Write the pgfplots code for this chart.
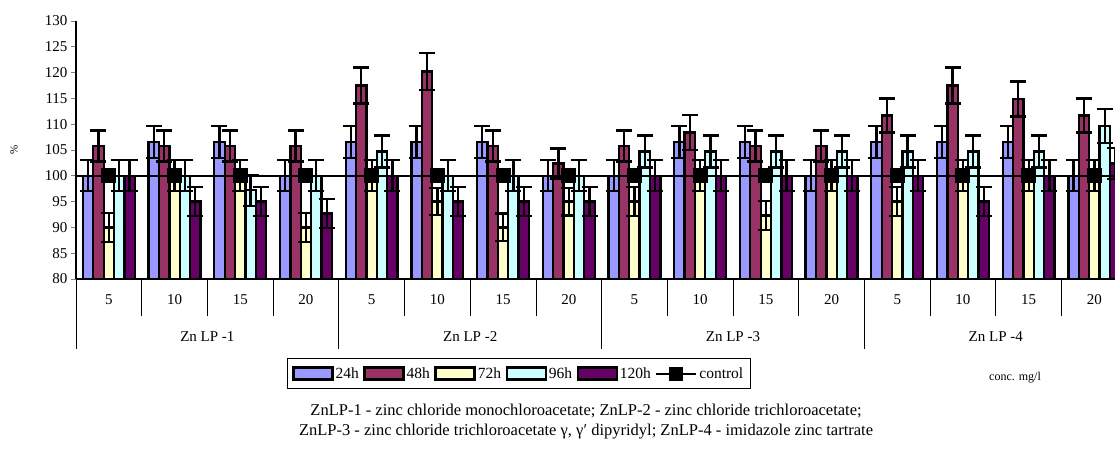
\documentclass[border=0pt]{standalone}
\usepackage{pgfplots}
\pgfplotsset{compat=1.18}
\usepackage{pgfplotstable}
\usepackage{fontspec}
\setmainfont{Liberation Serif}

\definecolor{c24}{HTML}{9999FF}
\definecolor{c48}{HTML}{993366}
\definecolor{c72}{HTML}{FFFFCC}
\definecolor{c96}{HTML}{CCFFFF}
\definecolor{c120}{HTML}{660066}

% x = category index (5,10,15,20 mg/l for each of ZnLP-1..4), value and error per time
\pgfplotstableread{
x  y1    e1   y2    e2   y3   e3   y4    e4   y5    e5
0  100   3    105.8 3    90   2.8  100   3    100   3
1  106.6 3.1  105.8 3    100  3    100   3    95    2.8
2  106.6 3.1  105.8 3    100  3    97.2  3    95    2.8
3  100   3    105.8 3    90   2.8  100   3    92.7  2.8
4  106.6 3.1  117.5 3.5  100  3    104.7 3.1  100   3
5  106.6 3.1  120.2 3.6  95   2.6  100   3    95    2.8
6  106.6 3.1  105.8 3    90   2.7  100   3    95    2.8
7  100   3    102.4 2.9  95   2.7  100   3    95    2.8
8  100   3    105.8 3    95   2.8  104.7 3.1  100   3
9  106.6 3.1  108.4 3.4  100  3    104.7 3.1  100   3
10 106.6 3.1  105.8 3    92.3 2.8  104.7 3.1  100   3
11 100   3    105.8 3    100  3    104.7 3.1  100   3
12 106.6 3.1  111.7 3.3  95   2.8  104.7 3.1  100   3
13 106.6 3.1  117.5 3.5  100  3    104.7 3.1  95    2.8
14 106.6 3.1  114.9 3.4  100  3    104.7 3.1  100   3
15 100   3    111.7 3.3  100  3    109.6 3.3  102.4 3
}\data

\pgfplotsset{
  barerr/.style={
    draw=black, line width=2.3pt,
    legend image code/.code={\draw[##1, line width=2.3pt] (0pt,-6pt) rectangle (39pt,6pt);},
    error bars/y dir=both, error bars/y explicit,
    error bars/error bar style={line width=2.3pt, black},
    error bars/error mark options={rotate=90, line width=2.3pt, mark size=8pt, black},
  },
}

\begin{document}
\begin{tikzpicture}
\begin{axis}[
    name=ax,
    width=1051.2pt, height=258pt, scale only axis,
    ybar=0pt, bar width=0.158,
    xmin=-0.5, xmax=15.5,
    ymin=80, ymax=130,
    ytick={80,85,...,130},
    axis x line*=bottom, axis y line*=left,
    axis line style={line width=1.3pt},
    xtick={0,...,15},
    xticklabels={5,10,15,20,5,10,15,20,5,10,15,20,5,10,15,20},
    xtick style={draw=none},
    ytick style={line width=1pt},
    major tick length=5pt, tick align=outside,
    ticklabel style={font=\fontsize{15}{17}\selectfont},
    xticklabel style={yshift=-7pt},
    /pgf/number format/assume math mode=true,
    clip=false,
    legend columns=6,
    legend style={at={(0.2007,-0.3062)}, anchor=north west,
      draw=black, line width=0.8pt, inner xsep=5pt, inner ysep=7pt,
      font=\fontsize{15.5}{18}\selectfont,
      /tikz/every even column/.append style={column sep=2.5pt}},
]
\addplot[fill=c24, barerr]  table[x=x, y=y1, y error=e1] {\data};
\addplot[fill=c48, barerr]  table[x=x, y=y2, y error=e2] {\data};
\addplot[fill=c72, barerr]  table[x=x, y=y3, y error=e3] {\data};
\addplot[fill=c96, barerr]  table[x=x, y=y4, y error=e4] {\data};
\addplot[fill=c120, barerr] table[x=x, y=y5, y error=e5] {\data};

\addplot[sharp plot, black, line width=2pt, forget plot] coordinates {(-0.5,100) (15.5,100)};
\addplot[sharp plot, black, line width=2pt, mark=square*, mark size=6.5pt,
  legend image code/.code={
    \draw[black, line width=2pt] (0pt,0pt) -- (40pt,0pt);
    \fill[black] (14pt,-6pt) rectangle (26pt,6pt);}]
  coordinates {(0,100) (1,100) (2,100) (3,100) (4,100) (5,100) (6,100) (7,100)
    (8,100) (9,100) (10,100) (11,100) (12,100) (13,100) (14,100) (15,100)};
\legend{24h,48h,72h,96h,120h,control}

% category and group separators below the axis
\pgfplotsinvokeforeach{0.5,1.5,2.5,4.5,5.5,6.5,8.5,9.5,10.5,12.5,13.5,14.5}{
  \draw[line width=0.8pt] (axis cs:#1,80) -- ++(0pt,-37pt);}
\pgfplotsinvokeforeach{-0.5,3.5,7.5,11.5}{
  \draw[line width=0.8pt] (axis cs:#1,80) -- ++(0pt,-70pt);}
\node[font=\fontsize{15}{17}\selectfont] at (axis cs:1.5,80) [yshift=-58pt] {Zn LP -1};
\node[font=\fontsize{15}{17}\selectfont] at (axis cs:5.5,80) [yshift=-58pt] {Zn LP -2};
\node[font=\fontsize{15}{17}\selectfont] at (axis cs:9.5,80) [yshift=-58pt] {Zn LP -3};
\node[font=\fontsize{15}{17}\selectfont] at (axis cs:13.5,80) [yshift=-58pt] {Zn LP -4};
\end{axis}

\node[rotate=90, font=\fontsize{11}{13}\selectfont] at ([xshift=-62pt]ax.west) {\%};
\node[font=\fontsize{12}{14}\selectfont] at ([xshift=939pt, yshift=-99pt]ax.south west) {conc. mg/l};
\node[font=\fontsize{16.5}{20}\selectfont, align=center] at ([xshift=510pt, yshift=-143pt]ax.south west)
  {ZnLP-1 - zinc chloride monochloroacetate; ZnLP-2 - zinc chloride trichloroacetate;\\
   ZnLP-3 - zinc chloride trichloroacetate γ, γ′ dipyridyl; ZnLP-4 - imidazole zinc tartrate};

\pgfresetboundingbox
\path (ax.south west) ++(-76pt,-174pt) rectangle ++(1115pt,453pt);
\end{tikzpicture}
\end{document}
